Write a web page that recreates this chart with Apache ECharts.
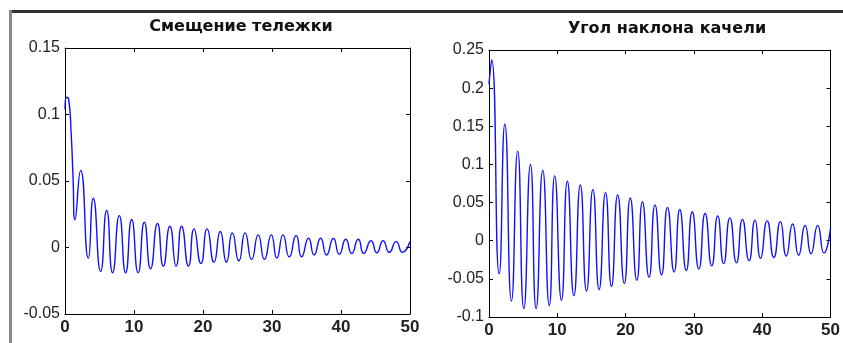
<!DOCTYPE html>
<html>
<head>
<meta charset="utf-8">
<script src="https://cdn.jsdelivr.net/npm/echarts@6/dist/echarts.min.js"></script>
<style>
html,body{margin:0;padding:0;background:#fff;}
#c{width:843px;height:343px;}
</style>
</head>
<body>
<div id="c"></div>
<script>
// ---- Data (time, value) ----
const titleLeft = 'Смещение тележки';
const titleRight = 'Угол наклона качели';

const xTicks = [0, 10, 20, 30, 40, 50];
const yTicksLeft = ['-0.05', '0', '0.05', '0.1', '0.15'];
const yTicksRight = ['-0.1', '-0.05', '0', '0.05', '0.1', '0.15', '0.2', '0.25'];

const timeLeft = [0, 0.25, 0.55, 0.9, 1.15, 1.45, 2.27, 3.38, 4.1, 5.17, 6.04, 6.9, 7.87, 8.79, 9.66, 10.6, 11.5, 12.4, 13.4, 14.25, 15.2, 16.1, 16.9, 17.9, 18.7, 19.7, 20.6, 21.6, 22.5, 23.4, 24.25, 25.2, 26.1, 27.05, 28.0, 28.9, 29.9, 30.7, 31.6, 32.5, 33.5, 34.3, 35.3, 36.1, 37.05, 37.9, 38.9, 39.75, 40.7, 41.55, 42.5, 43.3, 44.35, 45.2, 46.1, 47.0, 48.0, 48.9, 50];
const valuesLeft = [0.104, 0.113, 0.111, 0.085, 0.055, 0.021, 0.058, -0.008, 0.037, -0.018, 0.028, -0.019, 0.024, -0.019, 0.021, -0.019, 0.019, -0.016, 0.018, -0.014, 0.016, -0.014, 0.016, -0.014, 0.014, -0.012, 0.014, -0.011, 0.012, -0.011, 0.011, -0.010, 0.011, -0.009, 0.0095, -0.009, 0.0095, -0.008, 0.0095, -0.007, 0.009, -0.007, 0.007, -0.0056, 0.007, -0.0056, 0.0068, -0.005, 0.0062, -0.0045, 0.0062, -0.0044, 0.0051, -0.004, 0.0051, -0.0036, 0.0044, -0.0036, 0.0045];

const timeRight = [0, 0.39, 1.49, 2.32, 3.29, 4.2, 5.1, 6.07, 6.9, 7.87, 8.82, 9.62, 10.61, 11.47, 12.43, 13.37, 14.28, 15.21, 16.12, 17.06, 17.93, 18.84, 19.81, 20.68, 21.64, 22.46, 23.43, 24.3, 25.26, 26.13, 27.1, 27.93, 28.88, 29.75, 30.72, 31.64, 32.61, 33.48, 34.35, 35.26, 36.23, 37.1, 38.07, 38.94, 39.75, 40.72, 41.7, 42.65, 43.52, 44.45, 45.32, 46.28, 47.14, 48.12, 49.03, 50];
const valuesRight = [0.205, 0.237, -0.0435, 0.153, -0.079, 0.1175, -0.089, 0.100, -0.089, 0.092, -0.085, 0.085, -0.078, 0.078, -0.072, 0.073, -0.066, 0.067, -0.064, 0.063, -0.060, 0.060, -0.056, 0.056, -0.052, 0.051, -0.048, 0.047, -0.045, 0.0435, -0.041, 0.041, -0.039, 0.038, -0.037, 0.0357, -0.033, 0.0326, -0.030, 0.030, -0.029, 0.028, -0.026, 0.027, -0.023, 0.026, -0.022, 0.025, -0.020, 0.022, -0.019, 0.020, -0.017, 0.020, -0.016, 0.017];

// ---- Chart ----
const FONT = '"Liberation Sans", Arial, sans-serif';
const TFONT = '"DejaVu Sans", "Liberation Sans", sans-serif';
const pairs = (t, v) => t.map((x, i) => [x, v[i]]);
const fmtY = (labels) => (v) => {
  const s = String(Math.round(v * 1000) / 1000);
  return labels.indexOf(s) >= 0 ? s : '';
};

function xAx(grid, pos, showLabel) {
  return {
    type: 'value', gridIndex: grid, position: pos, min: 0, max: 50, interval: 10,
    axisLine: { show: true, onZero: false, lineStyle: { color: '#000', width: 1 } },
    axisTick: { show: true, inside: true, length: 4, lineStyle: { color: '#000' } },
    axisLabel: { show: showLabel, margin: 5, fontFamily: FONT, fontSize: 17, fontWeight: 'bold', color: '#222',
                 formatter: (v) => xTicks.indexOf(v) >= 0 ? String(v) : '' },
    splitLine: { show: false }
  };
}
function yAx(grid, pos, showLabel, min, max, labels) {
  return {
    type: 'value', gridIndex: grid, position: pos, min: min, max: max, interval: 0.05,
    axisLine: { show: true, onZero: false, lineStyle: { color: '#000', width: 1 } },
    axisTick: { show: true, inside: true, length: 4, lineStyle: { color: '#000' } },
    axisLabel: { show: showLabel, margin: 5, fontFamily: FONT, fontSize: 16, color: '#222', formatter: fmtY(labels) },
    splitLine: { show: false }
  };
}

const chart = echarts.init(document.getElementById('c'), null, { renderer: 'canvas' });
chart.setOption({
  backgroundColor: '#fff',
  animation: false,
  grid: [
    { left: 65, top: 48, width: 345, height: 266 },
    { left: 489, top: 50, width: 345, height: 267 }
  ],
  xAxis: [xAx(0, 'bottom', true), xAx(0, 'top', false), xAx(1, 'bottom', true), xAx(1, 'top', false)],
  yAxis: [
    yAx(0, 'left', true, -0.05, 0.15, yTicksLeft), yAx(0, 'right', false, -0.05, 0.15, yTicksLeft),
    yAx(1, 'left', true, -0.1, 0.25, yTicksRight), yAx(1, 'right', false, -0.1, 0.25, yTicksRight)
  ],
  series: [
    { type: 'line', xAxisIndex: 0, yAxisIndex: 0, data: pairs(timeLeft, valuesLeft), smooth: 0.6,
      showSymbol: false, lineStyle: { color: '#1010ff', width: 1.4 } },
    { type: 'line', xAxisIndex: 2, yAxisIndex: 2, data: pairs(timeRight, valuesRight), smooth: 0.6,
      showSymbol: false, lineStyle: { color: '#1010ff', width: 1.4 } }
  ],
  graphic: [
    { type: 'rect', shape: { x: 10, y: 10, width: 833, height: 3 }, style: { fill: '#333' } },
    { type: 'rect', shape: { x: 9, y: 10, width: 3, height: 333 }, style: { fill: '#888' } },
    { type: 'text', x: 241, y: 27, style: { text: titleLeft, textAlign: 'center', textVerticalAlign: 'middle',
      font: 'bold 16px ' + TFONT, fill: '#111' } },
    { type: 'text', x: 667, y: 29, style: { text: titleRight, textAlign: 'center', textVerticalAlign: 'middle',
      font: 'bold 16px ' + TFONT, fill: '#111' } }
  ]
});
</script>
</body>
</html>
